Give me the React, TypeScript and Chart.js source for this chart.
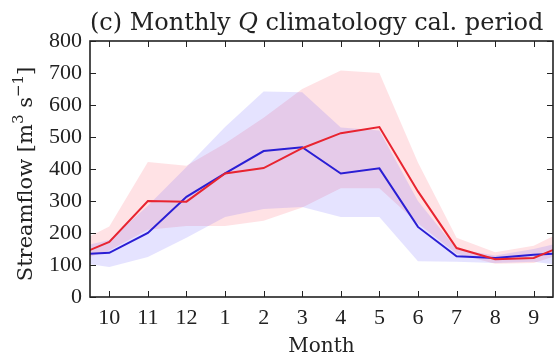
import React, { useEffect, useRef } from 'react';
import { Chart, registerables } from 'chart.js';

Chart.register(...registerables);

// Water-year months, October first
const monthLabels = ['10', '11', '12', '1', '2', '3', '4', '5', '6', '7', '8', '9'];

// Red series: monthly mean and spread band
const redMean = [172, 300, 298, 386, 403, 465, 512, 531, 330, 153, 118, 122];
const redLow = [145, 210, 222, 222, 238, 280, 340, 340, 230, 135, 104, 106];
const redHigh = [220, 422, 410, 480, 560, 650, 708, 700, 420, 185, 140, 160];

// Blue series: monthly mean and spread band
const blueMean = [138, 200, 313, 386, 456, 468, 386, 402, 219, 127, 122, 132];
const blueLow = [94, 125, 185, 250, 275, 281, 250, 250, 112, 110, 106, 110];
const blueHigh = [178, 285, 406, 531, 642, 640, 530, 520, 300, 150, 130, 150];

const yMin = 0;
const yMax = 800;
const yStep = 100;

const TICK_FONT = "'Liberation Serif', 'Times New Roman', serif";
const TEXT_FONT = "'DejaVu Serif', serif";
const INK = '#222';

// Repeat the neighbouring months at both ends so the cycle runs edge to edge
const wrap = (arr: number[]) => [
  { x: -1, y: arr[arr.length - 1] },
  ...arr.map((v, i) => ({ x: i, y: v })),
  { x: arr.length, y: arr[0] },
];

type Piece = { text: string; italic?: boolean; sup?: boolean };

// Draws a run of text pieces with optional italics and superscripts
function drawRich(ctx: CanvasRenderingContext2D, pieces: Piece[], size: number, x: number, y: number, align: 'left' | 'center') {
  const fontFor = (p: Piece) =>
    `${p.italic ? 'italic ' : ''}${p.sup ? Math.round(size * 0.7) : size}px ${TEXT_FONT}`;
  const widths = pieces.map((p) => {
    ctx.font = fontFor(p);
    return ctx.measureText(p.text).width;
  });
  const total = widths.reduce((s, w) => s + w, 0);
  let cx = align === 'center' ? x - total / 2 : x;
  ctx.textAlign = 'left';
  ctx.textBaseline = 'alphabetic';
  pieces.forEach((p, i) => {
    ctx.font = fontFor(p);
    ctx.fillText(p.text, cx, p.sup ? y - size * 0.42 : y);
    cx += widths[i];
  });
}

const framePlugin = {
  id: 'frameAndTicks',
  afterDatasetsDraw(chart: any) {
    const { ctx, chartArea: a, scales } = chart;
    const xs = scales.x;
    const ys = scales.y;
    const len = 6;
    ctx.save();
    ctx.strokeStyle = INK;
    ctx.lineWidth = 1;
    ctx.beginPath();
    xs.ticks.forEach((t: any) => {
      const px = Math.round(xs.getPixelForValue(t.value)) + 0.5;
      ctx.moveTo(px, a.bottom);
      ctx.lineTo(px, a.bottom - len);
      ctx.moveTo(px, a.top);
      ctx.lineTo(px, a.top + len);
    });
    ys.ticks.forEach((t: any) => {
      const py = Math.round(ys.getPixelForValue(t.value)) + 0.5;
      ctx.moveTo(a.left, py);
      ctx.lineTo(a.left + len, py);
      ctx.moveTo(a.right, py);
      ctx.lineTo(a.right - len, py);
    });
    ctx.stroke();
    ctx.lineWidth = 1.6;
    ctx.strokeRect(a.left, a.top, a.right - a.left, a.bottom - a.top);
    ctx.restore();
  },
};

const textPlugin = {
  id: 'richText',
  afterDraw(chart: any) {
    const { ctx, chartArea: a } = chart;
    ctx.save();
    ctx.fillStyle = INK;

    // Panel title, spanning the plot width
    const title: Piece[] = [
      { text: '(c) Monthly ' },
      { text: 'Q', italic: true },
      { text: ' climatology cal. period' },
    ];
    let w = 0;
    title.forEach((p) => {
      ctx.font = `${p.italic ? 'italic ' : ''}20px ${TEXT_FONT}`;
      w += ctx.measureText(p.text).width;
    });
    const titleSize = Math.min(24, (20 * (a.right - a.left - 4)) / w);
    drawRich(ctx, title, titleSize, a.left, 30, 'left');

    // Vertical axis title with unit superscripts
    ctx.translate(32, (a.top + a.bottom) / 2 + 5);
    ctx.rotate(-Math.PI / 2);
    drawRich(
      ctx,
      [
        { text: 'Streamflow [m' },
        { text: '3', sup: true },
        { text: ' s' },
        { text: '−1', sup: true },
        { text: ']' },
      ],
      21,
      0,
      0,
      'center'
    );
    ctx.restore();
  },
};

export default function App() {
  const canvasRef = useRef<HTMLCanvasElement | null>(null);

  useEffect(() => {
    const canvas = canvasRef.current;
    if (!canvas) return;

    const line = (data: number[], color: string) => ({
      data: wrap(data),
      borderColor: color,
      borderWidth: 2,
      pointRadius: 0,
      fill: false,
      tension: 0,
      clip: 0,
    });
    const bandEdge = (data: number[], fill: any, color: string) => ({
      data: wrap(data),
      borderColor: 'rgba(0,0,0,0)',
      borderWidth: 0,
      backgroundColor: color,
      pointRadius: 0,
      fill,
      tension: 0,
      clip: 0,
    });

    const chart = new Chart(canvas, {
      type: 'line',
      data: {
        datasets: [
          line(redMean, 'rgb(232, 36, 48)'),
          line(blueMean, 'rgb(42, 30, 212)'),
          bandEdge(blueHigh, '+1', 'rgba(80, 70, 255, 0.15)'),
          bandEdge(blueLow, false, 'rgba(80, 70, 255, 0.15)'),
          bandEdge(redHigh, '+1', 'rgba(255, 60, 80, 0.15)'),
          bandEdge(redLow, false, 'rgba(255, 60, 80, 0.15)'),
        ] as any,
      },
      options: {
        animation: false,
        responsive: false,
        maintainAspectRatio: false,
        events: [],
        layout: { padding: { top: 41, right: 1, bottom: 0, left: 0 } },
        plugins: {
          legend: { display: false },
          tooltip: { enabled: false },
          title: { display: false },
        },
        scales: {
          x: {
            type: 'linear',
            min: -0.5,
            max: monthLabels.length - 0.5,
            afterBuildTicks: (scale: any) => {
              scale.ticks = monthLabels.map((_, i) => ({ value: i }));
            },
            afterFit: (scale: any) => {
              scale.height = 63;
            },
            grid: { display: false, drawTicks: false },
            border: { display: false },
            ticks: {
              autoSkip: false,
              maxRotation: 0,
              padding: 8,
              color: INK,
              font: { family: TICK_FONT, size: 22 },
              callback: (v: any) => monthLabels[v] ?? '',
            },
            title: {
              display: true,
              text: 'Month',
              color: INK,
              font: { family: TEXT_FONT, size: 20 },
              padding: { top: 0, bottom: 1 },
            },
          },
          y: {
            min: yMin,
            max: yMax,
            afterFit: (scale: any) => {
              scale.width = 90;
            },
            grid: { display: false, drawTicks: false },
            border: { display: false },
            ticks: {
              stepSize: yStep,
              padding: 8,
              color: INK,
              font: { family: TICK_FONT, size: 22 },
            },
          },
        },
      } as any,
      plugins: [framePlugin, textPlugin],
    });

    return () => chart.destroy();
  }, []);

  return (
    <div style={{ position: 'fixed', left: 0, top: 0, width: 554, height: 360, background: '#fff' }}>
      <canvas ref={canvasRef} width={554} height={360} style={{ display: 'block' }} />
    </div>
  );
}
